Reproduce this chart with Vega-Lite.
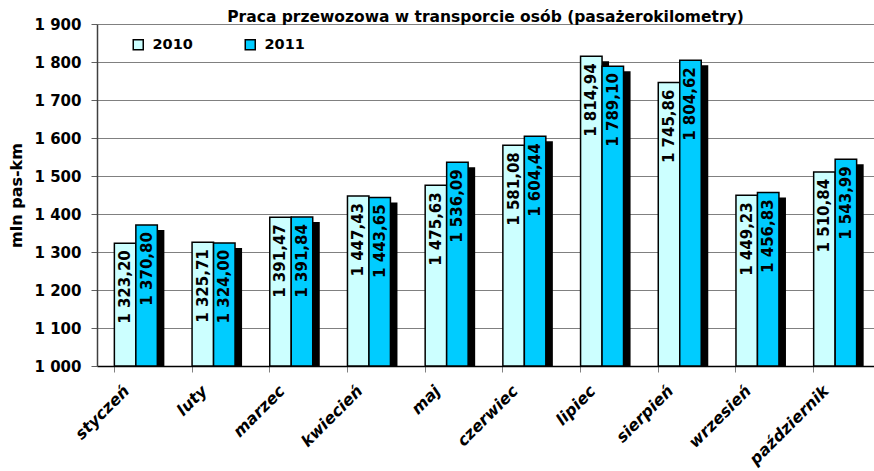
{
  "$schema": "https://vega.github.io/schema/vega-lite/v6.json",
  "width": 777,
  "height": 342,
  "autosize": {"type": "none"},
  "padding": {"left": 97, "top": 24, "right": 0, "bottom": 105},
  "background": "white",
  "config": {
    "locale": {"number": {"decimal": ",", "thousands": " ", "grouping": [3], "currency": ["", ""]}},
    "view": {"stroke": null},
    "font": "DejaVu Sans"
  },
  "title": {
    "text": "Praca przewozowa w transporcie osób (pasażerokilometry)",
    "fontSize": 15.5,
    "fontWeight": "bold",
    "font": "DejaVu Sans",
    "color": "black",
    "anchor": "middle",
    "offset": 5,
    "dy": 13
  },
  "data": {
    "values": [
      {"month": "styczeń", "year": "2010", "value": 1323.20},
      {"month": "styczeń", "year": "2011", "value": 1370.80},
      {"month": "luty", "year": "2010", "value": 1325.71},
      {"month": "luty", "year": "2011", "value": 1324.00},
      {"month": "marzec", "year": "2010", "value": 1391.47},
      {"month": "marzec", "year": "2011", "value": 1391.84},
      {"month": "kwiecień", "year": "2010", "value": 1447.43},
      {"month": "kwiecień", "year": "2011", "value": 1443.65},
      {"month": "maj", "year": "2010", "value": 1475.63},
      {"month": "maj", "year": "2011", "value": 1536.09},
      {"month": "czerwiec", "year": "2010", "value": 1581.08},
      {"month": "czerwiec", "year": "2011", "value": 1604.44},
      {"month": "lipiec", "year": "2010", "value": 1814.94},
      {"month": "lipiec", "year": "2011", "value": 1789.10},
      {"month": "sierpień", "year": "2010", "value": 1745.86},
      {"month": "sierpień", "year": "2011", "value": 1804.62},
      {"month": "wrzesień", "year": "2010", "value": 1449.23},
      {"month": "wrzesień", "year": "2011", "value": 1456.83},
      {"month": "październik", "year": "2010", "value": 1510.84},
      {"month": "październik", "year": "2011", "value": 1543.99}
    ]
  },
  "resolve": {"scale": {"xOffset": "independent"}},
  "encoding": {
    "x": {
      "field": "month",
      "type": "nominal",
      "sort": null,
      "scale": {"paddingInner": 0.447, "paddingOuter": 0.2235},
      "axis": {
        "title": null,
        "bandPosition": 0,
        "labelAngle": -45,
        "labelAlign": "right",
        "labelBaseline": "middle",
        "labelOffset": -9,
        "labelPadding": 16,
        "labelFontSize": 16,
        "labelFontWeight": "bold",
        "labelFontStyle": "italic",
        "labelColor": "black",
        "labelFont": "DejaVu Sans",
        "domainColor": "black",
        "domainWidth": 1.5,
        "tickColor": "#808080",
        "tickSize": 6,
        "grid": false
      }
    },
    "y": {
      "field": "value",
      "type": "quantitative",
      "scale": {"domain": [1000, 1900], "nice": false, "zero": false},
      "axis": {
        "title": "mln pas-km",
        "titleFontSize": 16,
        "titleFontWeight": "bold",
        "titleColor": "black",
        "titleFont": "DejaVu Sans",
        "titlePadding": 10,
        "values": [1000, 1100, 1200, 1300, 1400, 1500, 1600, 1700, 1800, 1900],
        "format": ",d",
        "labelFontSize": 15,
        "labelFontWeight": "bold",
        "labelColor": "black",
        "labelFont": "DejaVu Sans",
        "labelPadding": 10,
        "tickSize": 6,
        "tickColor": "#606060",
        "domainColor": "#404040",
        "domainWidth": 1.5,
        "grid": true,
        "gridColor": "#808080",
        "gridWidth": 1.2
      }
    }
  },
  "layer": [
    {
      "mark": {"type": "bar", "color": "black", "yOffset": 5},
      "encoding": {
        "xOffset": {
          "field": "year",
          "type": "nominal",
          "scale": {"range": [7, 50], "paddingInner": 0, "paddingOuter": 0}
        },
        "y2": {"datum": 1000}
      }
    },
    {
      "mark": {"type": "bar", "stroke": "black", "strokeWidth": 1.5},
      "encoding": {
        "xOffset": {
          "field": "year",
          "type": "nominal",
          "scale": {"paddingInner": 0, "paddingOuter": 0}
        },
        "y2": {"datum": 1000},
        "color": {
          "field": "year",
          "type": "nominal",
          "scale": {"domain": ["2010", "2011"], "range": ["#CCFFFF", "#00CCFF"]},
          "legend": {
            "title": null,
            "orient": "none",
            "legendX": 34,
            "legendY": 13,
            "direction": "horizontal",
            "padding": 0,
            "symbolType": "square",
            "symbolSize": 100,
            "symbolStrokeColor": "black",
            "symbolStrokeWidth": 1.5,
            "symbolOpacity": 1,
            "labelFontSize": 14.5,
            "labelFontWeight": "bold",
            "labelColor": "black",
            "labelFont": "DejaVu Sans",
            "labelOffset": 7,
            "columnPadding": 49
          }
        }
      }
    },
    {
      "mark": {
        "type": "text",
        "angle": 270,
        "align": "right",
        "baseline": "middle",
        "dx": -7,
        "fontSize": 15,
        "fontWeight": "bold",
        "font": "DejaVu Sans",
        "color": "black"
      },
      "encoding": {
        "xOffset": {
          "field": "year",
          "type": "nominal",
          "scale": {"type": "point", "range": [10.7, 32.2], "padding": 0}
        },
        "text": {"field": "value", "type": "quantitative", "format": ",.2f"}
      }
    }
  ]
}
